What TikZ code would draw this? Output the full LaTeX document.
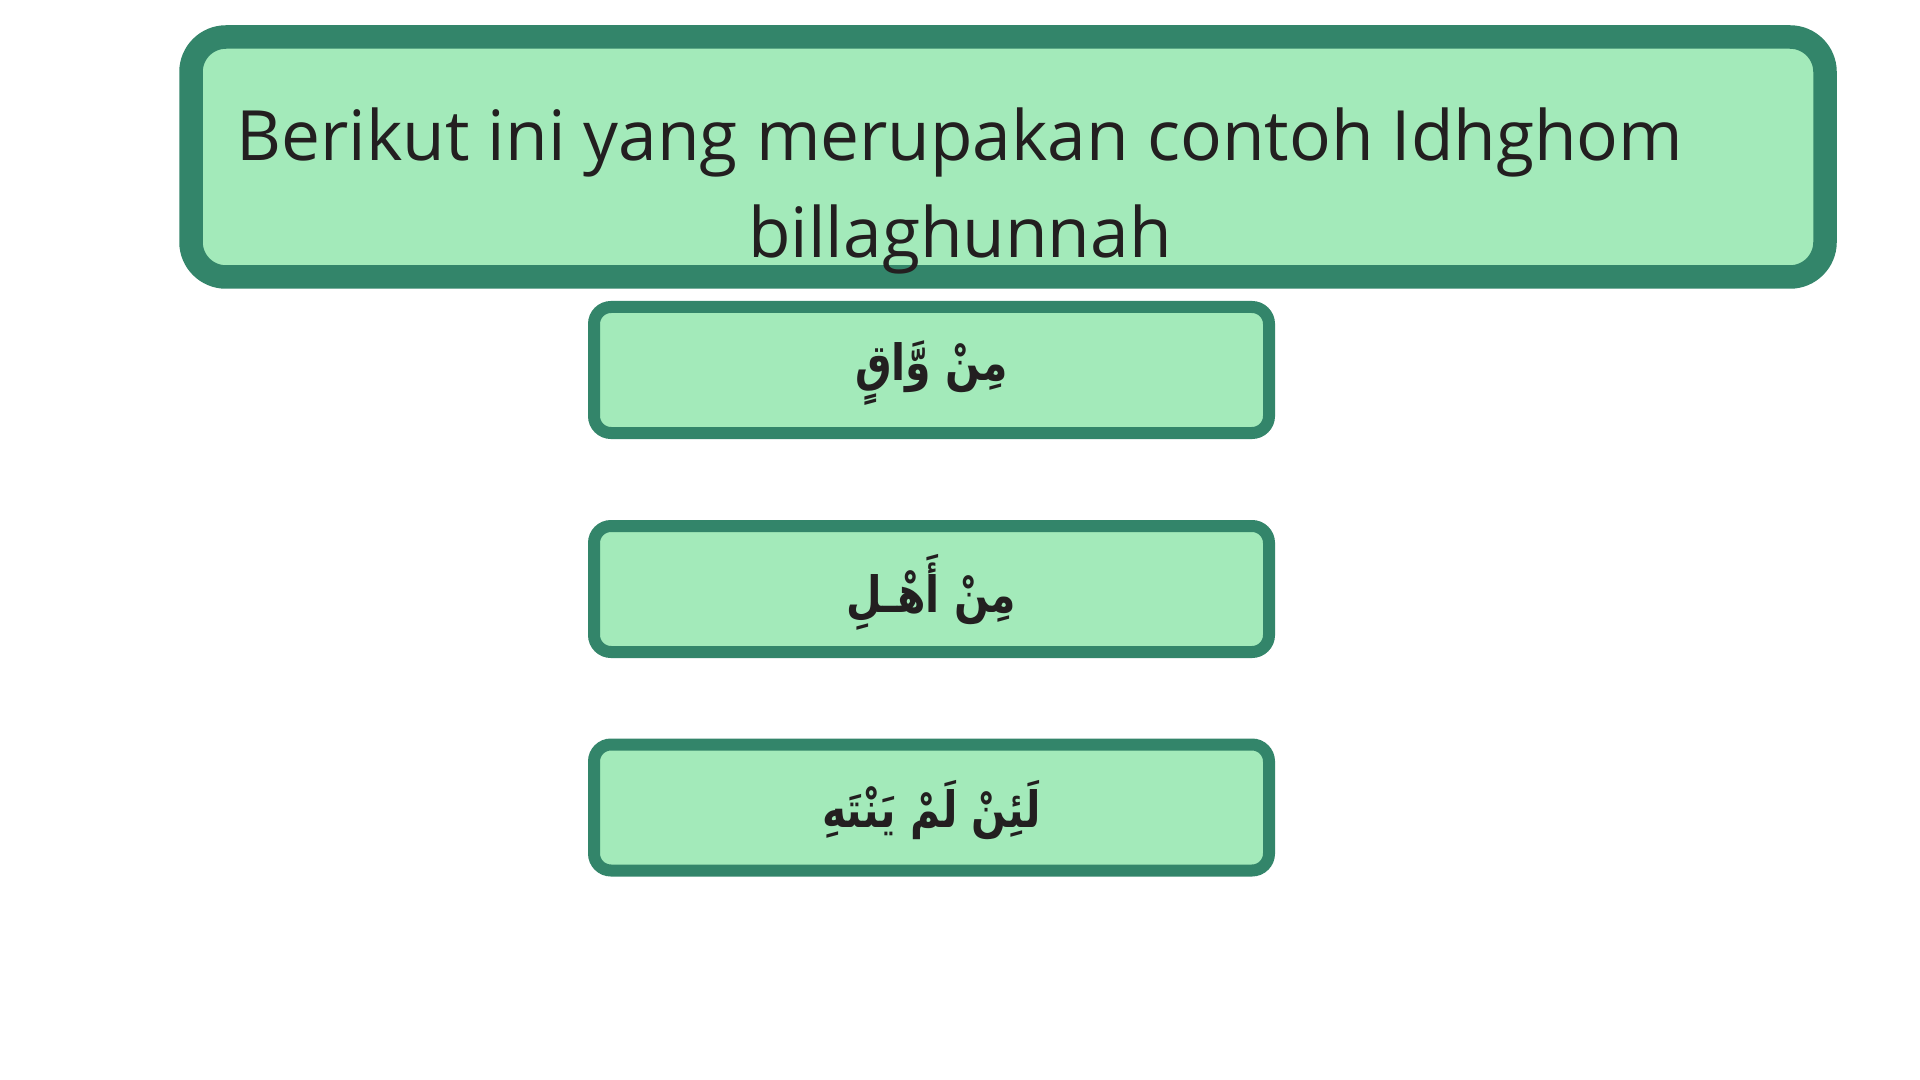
\documentclass[tikz,border=0pt]{standalone}
\usepackage{fontspec}
\setmainfont{Open Sans}
\newfontfamily\arabicfont[Script=Arabic,FakeStretch=0.82]{DejaVu Sans}
\TeXXeTstate=1
\definecolor{bordergreen}{HTML}{33856A}
\definecolor{fillgreen}{HTML}{A3EABA}
\definecolor{inktext}{HTML}{231F20}
\begin{document}
\begin{tikzpicture}[x=0.5pt,y=-0.5pt,
  titlebox/.style={draw=bordergreen,fill=fillgreen,line width=11.75pt,rounded corners=17.5pt,
    minimum width=817pt,minimum height=120pt,inner sep=0pt},
  choicebox/.style={draw=bordergreen,fill=fillgreen,line width=6pt,rounded corners=8.5pt,
    minimum width=337.5pt,minimum height=63pt,inner sep=0pt},
  titletext/.style={font=\fontsize{34.7pt}{48.5pt}\selectfont,text=inktext,anchor=base,inner sep=0pt},
  arabictext/.style={font=\arabicfont\bfseries\fontsize{25pt}{30pt}\selectfont,text=inktext,inner sep=0pt}]
\useasboundingbox (0,0) rectangle (1920,1080);
\fill[white] (0,0) rectangle (1920,1080);
\node[titlebox] (qbox) at (1008,157) {};
\node[titletext] (qline1) at (960,161) {Berikut ini yang merupakan contoh Idhghom};
\node[titletext] (qline2) at (960,258) {billaghunnah};
\node[choicebox] (opt1) at (931.5,370) {};
\node[choicebox] (opt2) at (931.5,589) {};
\node[choicebox] (opt3) at (931.5,807.5) {};
\node[arabictext] (ar1) at (931.5,373) {\beginR مِنْ وَّاقٍ\endR};
\node[arabictext] (ar2) at (931.5,592) {\beginR مِنْ أَهْـلِ\endR};
\node[arabictext] (ar3) at (931.5,810.5) {\beginR لَئِنْ لَمْ يَنْتَهِ\endR};
\end{tikzpicture}
\end{document}
